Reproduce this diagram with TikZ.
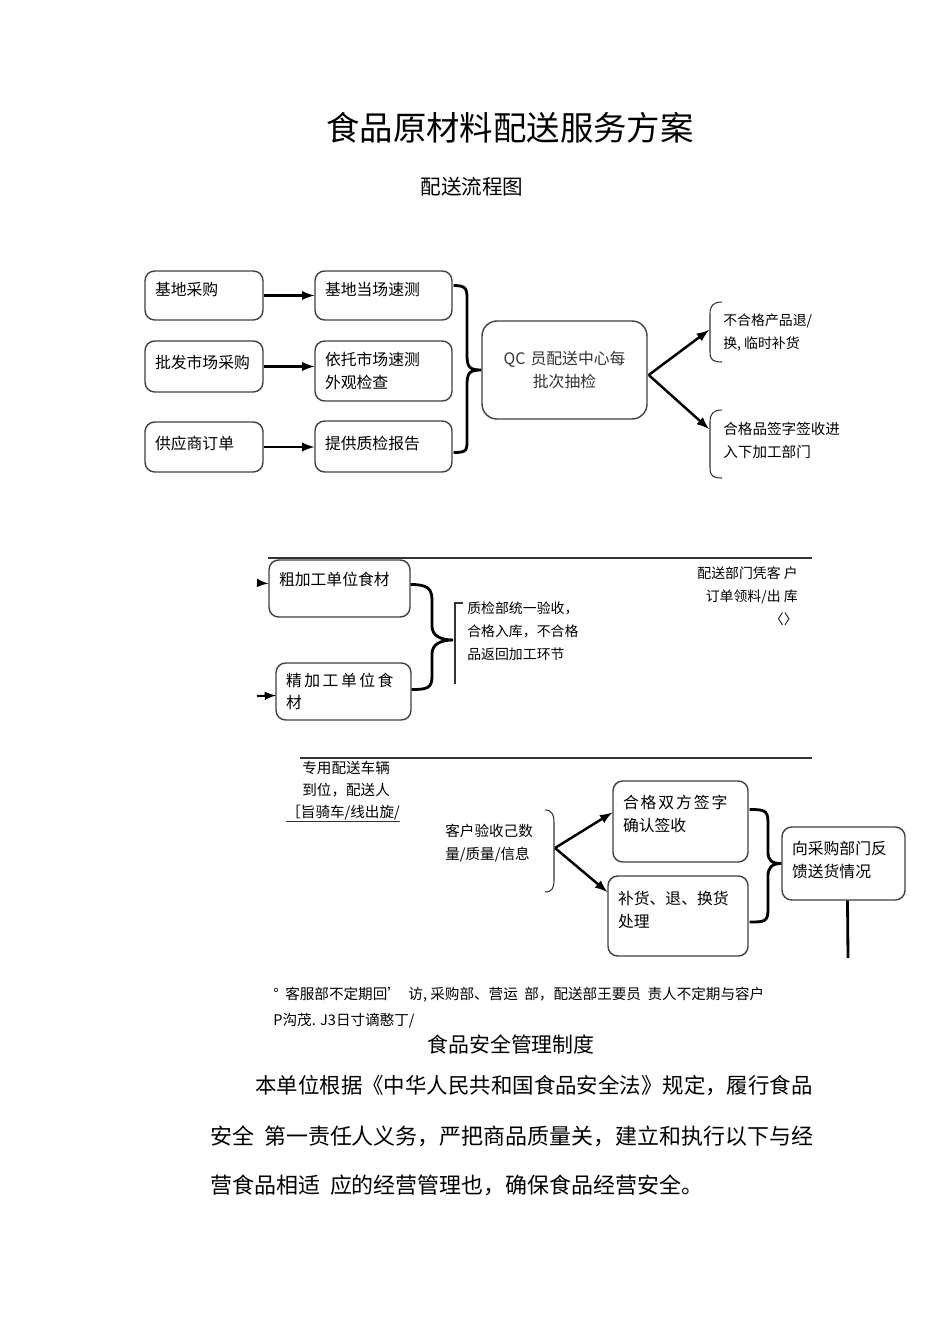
\documentclass[tikz,border=0pt]{standalone}
\usepackage{fontspec}
\setmainfont{Noto Sans CJK SC}
\usetikzlibrary{calc}

\begin{document}
\begin{tikzpicture}
        [x=0.02cm,y=-0.02cm,every node/.style={inner sep=0pt},
         box/.style={draw=black!75,line width=0.8pt,rounded corners=5.5pt,align=left,inner xsep=0.2cm,font=\fontsize{9}{13}\selectfont},
         arr/.style={-latex,line width=1.4pt},
         brace/.style={line width=1.6pt},
         rule/.style={line width=0.6pt,black!80},
         note/.style={align=left,font=\fontsize{7.9}{13}\selectfont}]
        \useasboundingbox (0,0) rectangle (950,1344);

        \node[font=\fontsize{19}{19}\selectfont] (title) at (510,128) {食品原材料配送服务方案};
        \node[font=\fontsize{11.7}{12}\selectfont] (sub) at (472,187) {配送流程图};

        % purchase and quick test
        \node[box,text width=1.96cm,minimum height=0.98cm,text depth=0.25cm] (b1) at (204,295.5) {基地采购};
        \node[box,text width=1.96cm,minimum height=1.02cm,text depth=0.2cm] (b2) at (204,366.5) {批发市场采购};
        \node[box,text width=1.96cm,minimum height=1.0cm,text depth=0.15cm] (b3) at (204,447) {供应商订单};
        \node[box,text width=2.34cm,minimum height=0.98cm,text depth=0.25cm] (c1) at (383.5,295.5) {基地当场速测};
        \node[box,text width=2.34cm,minimum height=1.2cm] (c2) at (383.5,371) {依托市场速测\\外观检查};
        \node[box,text width=2.34cm,minimum height=1.02cm,text depth=0.15cm] (c3) at (383.5,446.5) {提供质检报告};
        \node[box,text width=2.9cm,minimum height=1.96cm,align=center,rounded corners=8.5pt,text=black!80] (qc) at (564.5,370) {QC 员配送中心每\\批次抽检};

        \path [arr] (b1.east) edge (b1.east -| c1.west);
        \path [arr] (b2.east) edge (b2.east -| c2.west);
        \path [arr] (b3.east) edge (b3.east -| c3.west);
        \draw[brace] ($(c1.east)+(1,-10)$) .. controls +(14,0) and +(0,-12) .. (467,302) -- (467,355)
            .. controls +(0,12) and +(-12,0) .. (qc.west) .. controls +(-12,0) and +(0,-12) .. (467,385)
            -- (467,438) .. controls +(0,12) and +(14,0) .. ($(c3.east)+(1,6)$);

        \node[note,anchor=west] (r1) at (723,332.5) {不合格产品退/\\换, 临时补货};
        \node[note,anchor=west,font=\fontsize{8.3}{13}\selectfont] (r2) at (723,440) {合格品签字签收进\\入下加工部门};
        \coordinate (r1tip) at (709,330);
        \coordinate (r2tip) at (709,429);
        \draw[rule] (722,302) .. controls (713,302) and (710,306) .. (710,314) -- (710,352) .. controls (710,360) and (713,362) .. (722,362);
        \draw[rule] (722,410) .. controls (713,410) and (710,414) .. (710,422) -- (710,468) .. controls (710,476) and (713,478) .. (722,478);
        \path [arr] ($(qc.east)+(1,5)$) edge (r1tip);
        \path [arr] ($(qc.east)+(1,5)$) edge (r2tip);

        % processing units
        \draw[rule] (268,558) -- (812,558);
        \node[box,text width=2.42cm,minimum height=1.14cm,text depth=0.38cm] (p1) at (339.5,588.5) {粗加工单位食材};
        \node[box,text width=2.3cm,minimum height=1.14cm] (p2) at (343.5,691.5) {\addfontfeature{LetterSpace=16}精加工单位食\\材};
        \coordinate (p1in) at (257,583);
        \coordinate (p2in) at (257,696);
        \path [arr,line width=1.2pt] (p1in) edge ($(p1.west)+(0,-5)$);
        \path [arr,line width=1.2pt] (p2in) edge ($(p2.west -| p2in)+(19,4)$);
        \coordinate (qtip) at (453,640);
        \draw[brace] ($(p1.east)+(0,-4)$) .. controls +(16,0) and +(0,-12) .. (432,600) -- (432,626)
            .. controls +(0,10) and +(-12,0) .. (qtip) .. controls +(-12,0) and +(0,-10) .. (432,654)
            -- (432,676) .. controls +(0,12) and +(16,0) .. ($(p2.east)+(0,-2)$);
        \draw[rule] (463,603) -- (455,603) -- (455,684);
        \node[note,anchor=west] (q1) at (467,631) {质检部统一验收，\\合格入库，不合格\\品返回加工环节};
        \node[note,anchor=east,align=right] (d1) at (798,596) {配送部门凭客 户\\订单领料/出 库\\〈〉};

        % delivery and acceptance
        \draw[rule] (300,758) -- (812,758);
        \node[note,anchor=west,font=\fontsize{8.3}{12.8}\selectfont] (v1) at (302,779) {专用配送车辆\\到位，配送人};
        \node[note,anchor=west,font=\fontsize{8.3}{12.8}\selectfont] (v2) at (286,813) {［旨骑车/线出旋/};
        \draw[rule] ($(v2.south west)+(0,1)$) -- ($(v2.south east)+(0,1)$);
        \node[note,anchor=west,font=\fontsize{8.3}{13}\selectfont] (k1) at (445,843.5) {客户验收己数\\量/质量/信息};
        \draw[rule] (545,810) .. controls (552,810) and (554,815) .. (554,822) -- (554,880) .. controls (554,888) and (552,892) .. (545,892);
        \coordinate (ktip) at (555,848);

        \node[box,text width=2.3cm,minimum height=1.62cm,text depth=0.8cm] (a1) at (680.5,821.5) {{\addfontfeature{LetterSpace=12}合格双方签字}\\确认签收};
        \node[box,text width=2.4cm,minimum height=1.6cm,text depth=0.74cm] (a2) at (678,916) {补货、退、换货\\处理};
        \node[box,text width=2.06cm,minimum height=1.46cm,text depth=0.64cm] (fb) at (843.5,863.5) {向采购部门反\\馈送货情况};
        \path [arr] (ktip) edge ($(a1.west)+(0,-9)$);
        \path [arr] (ktip) edge ($(a2.west)+(0,-24)$);
        \draw[brace] ($(a1.east)+(1,-12)$) .. controls +(14,0) and +(0,-12) .. (768,822) -- (768,852)
            .. controls +(0,8) and +(-10,0) .. (fb.west) .. controls +(-10,0) and +(0,-8) .. (768,876)
            -- (768,910) .. controls +(0,12) and +(14,0) .. ($(a2.east)+(1,6)$);
        \coordinate (fbend) at (848,958);
        \draw[brace] ($(fb.south)+(4,0)$) -- (fbend);

        % footer
        \node[note,anchor=west,font=\fontsize{8.3}{14.7}\selectfont] (f1) at (273,1008) {°\ \ 客服部不定期回'\ \ 访, 采购部、营运\ \ 部，配送部王要员\ \ 责人不定期与容户\\P沟茂. J3日寸谪憨丁/};
        \node[font=\fontsize{11.9}{12}\selectfont] (sec) at (511,1044) {食品安全管理制度};
        \node[anchor=west,font=\fontsize{12.2}{13}\selectfont] (l1) at (255,1086) {本单位根据《中华人民共和国食品安全法》规定，履行食品};
        \node[anchor=west,font=\fontsize{12.5}{13}\selectfont] (l2) at (210,1136) {安全\ \ 第一责任人义务，严把商品质量关，建立和执行以下与经};
        \node[anchor=west,font=\fontsize{12.5}{13}\selectfont] (l3) at (210,1185) {营食品相适\ \ 应的经营管理也，确保食品经营安全。};
\end{tikzpicture}
\end{document}
